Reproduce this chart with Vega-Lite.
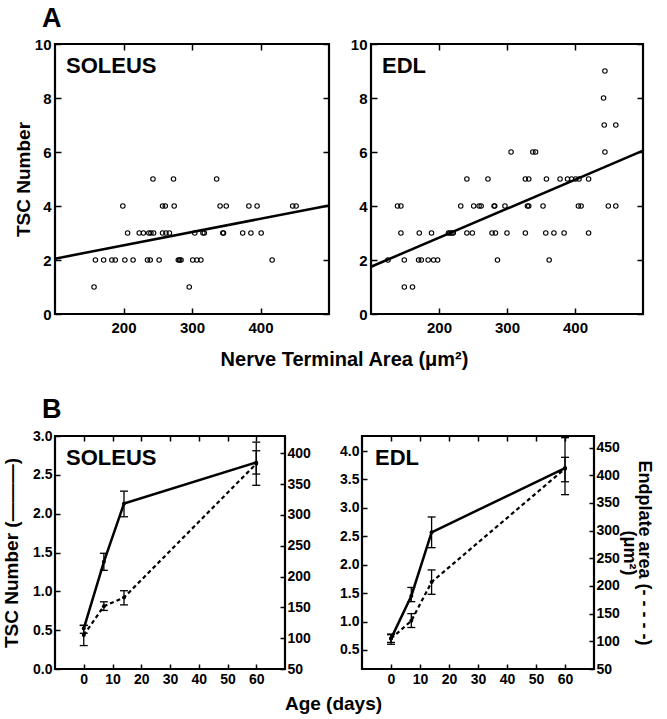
{
  "$schema": "https://vega.github.io/schema/vega-lite/v6.json",
  "background": "white",
  "padding": {"left": 0, "top": 5, "right": 0, "bottom": 0},
  "datasets": {
    "scatter": [
      {"muscle": "SOLEUS", "area": 243, "tsc": 5}, {"muscle": "SOLEUS", "area": 273, "tsc": 5}, {"muscle": "SOLEUS", "area": 336, "tsc": 5},
      {"muscle": "SOLEUS", "area": 199, "tsc": 4}, {"muscle": "SOLEUS", "area": 257, "tsc": 4}, {"muscle": "SOLEUS", "area": 261, "tsc": 4}, {"muscle": "SOLEUS", "area": 274, "tsc": 4}, {"muscle": "SOLEUS", "area": 341, "tsc": 4}, {"muscle": "SOLEUS", "area": 350, "tsc": 4}, {"muscle": "SOLEUS", "area": 383, "tsc": 4}, {"muscle": "SOLEUS", "area": 395, "tsc": 4}, {"muscle": "SOLEUS", "area": 447, "tsc": 4}, {"muscle": "SOLEUS", "area": 452, "tsc": 4},
      {"muscle": "SOLEUS", "area": 206, "tsc": 3}, {"muscle": "SOLEUS", "area": 223, "tsc": 3}, {"muscle": "SOLEUS", "area": 229, "tsc": 3}, {"muscle": "SOLEUS", "area": 237, "tsc": 3}, {"muscle": "SOLEUS", "area": 240, "tsc": 3}, {"muscle": "SOLEUS", "area": 244, "tsc": 3}, {"muscle": "SOLEUS", "area": 257, "tsc": 3}, {"muscle": "SOLEUS", "area": 262, "tsc": 3}, {"muscle": "SOLEUS", "area": 267, "tsc": 3}, {"muscle": "SOLEUS", "area": 304, "tsc": 3}, {"muscle": "SOLEUS", "area": 316, "tsc": 3}, {"muscle": "SOLEUS", "area": 318, "tsc": 3}, {"muscle": "SOLEUS", "area": 345, "tsc": 3}, {"muscle": "SOLEUS", "area": 346, "tsc": 3}, {"muscle": "SOLEUS", "area": 374, "tsc": 3}, {"muscle": "SOLEUS", "area": 386, "tsc": 3}, {"muscle": "SOLEUS", "area": 401, "tsc": 3},
      {"muscle": "SOLEUS", "area": 159, "tsc": 2}, {"muscle": "SOLEUS", "area": 171, "tsc": 2}, {"muscle": "SOLEUS", "area": 183, "tsc": 2}, {"muscle": "SOLEUS", "area": 188, "tsc": 2}, {"muscle": "SOLEUS", "area": 202, "tsc": 2}, {"muscle": "SOLEUS", "area": 214, "tsc": 2}, {"muscle": "SOLEUS", "area": 235, "tsc": 2}, {"muscle": "SOLEUS", "area": 239, "tsc": 2}, {"muscle": "SOLEUS", "area": 252, "tsc": 2}, {"muscle": "SOLEUS", "area": 280, "tsc": 2}, {"muscle": "SOLEUS", "area": 282, "tsc": 2}, {"muscle": "SOLEUS", "area": 284, "tsc": 2}, {"muscle": "SOLEUS", "area": 301, "tsc": 2}, {"muscle": "SOLEUS", "area": 307, "tsc": 2}, {"muscle": "SOLEUS", "area": 313, "tsc": 2}, {"muscle": "SOLEUS", "area": 417, "tsc": 2},
      {"muscle": "SOLEUS", "area": 157, "tsc": 1}, {"muscle": "SOLEUS", "area": 296, "tsc": 1},
      {"muscle": "EDL", "area": 149, "tsc": 1}, {"muscle": "EDL", "area": 161, "tsc": 1},
      {"muscle": "EDL", "area": 125, "tsc": 2}, {"muscle": "EDL", "area": 149, "tsc": 2}, {"muscle": "EDL", "area": 170, "tsc": 2}, {"muscle": "EDL", "area": 174, "tsc": 2}, {"muscle": "EDL", "area": 184, "tsc": 2}, {"muscle": "EDL", "area": 192, "tsc": 2}, {"muscle": "EDL", "area": 198, "tsc": 2}, {"muscle": "EDL", "area": 286, "tsc": 2}, {"muscle": "EDL", "area": 362, "tsc": 2},
      {"muscle": "EDL", "area": 144, "tsc": 3}, {"muscle": "EDL", "area": 171, "tsc": 3}, {"muscle": "EDL", "area": 189, "tsc": 3}, {"muscle": "EDL", "area": 214, "tsc": 3}, {"muscle": "EDL", "area": 216, "tsc": 3}, {"muscle": "EDL", "area": 219, "tsc": 3}, {"muscle": "EDL", "area": 221, "tsc": 3}, {"muscle": "EDL", "area": 241, "tsc": 3}, {"muscle": "EDL", "area": 249, "tsc": 3}, {"muscle": "EDL", "area": 278, "tsc": 3}, {"muscle": "EDL", "area": 283, "tsc": 3}, {"muscle": "EDL", "area": 300, "tsc": 3}, {"muscle": "EDL", "area": 327, "tsc": 3}, {"muscle": "EDL", "area": 357, "tsc": 3}, {"muscle": "EDL", "area": 369, "tsc": 3}, {"muscle": "EDL", "area": 384, "tsc": 3}, {"muscle": "EDL", "area": 420, "tsc": 3},
      {"muscle": "EDL", "area": 139, "tsc": 4}, {"muscle": "EDL", "area": 144, "tsc": 4}, {"muscle": "EDL", "area": 232, "tsc": 4}, {"muscle": "EDL", "area": 251, "tsc": 4}, {"muscle": "EDL", "area": 259, "tsc": 4}, {"muscle": "EDL", "area": 262, "tsc": 4}, {"muscle": "EDL", "area": 281, "tsc": 4}, {"muscle": "EDL", "area": 282, "tsc": 4}, {"muscle": "EDL", "area": 297, "tsc": 4}, {"muscle": "EDL", "area": 330, "tsc": 4}, {"muscle": "EDL", "area": 332, "tsc": 4}, {"muscle": "EDL", "area": 353, "tsc": 4}, {"muscle": "EDL", "area": 405, "tsc": 4}, {"muscle": "EDL", "area": 409, "tsc": 4}, {"muscle": "EDL", "area": 449, "tsc": 4}, {"muscle": "EDL", "area": 460, "tsc": 4},
      {"muscle": "EDL", "area": 241, "tsc": 5}, {"muscle": "EDL", "area": 272, "tsc": 5}, {"muscle": "EDL", "area": 327, "tsc": 5}, {"muscle": "EDL", "area": 332, "tsc": 5}, {"muscle": "EDL", "area": 358, "tsc": 5}, {"muscle": "EDL", "area": 378, "tsc": 5}, {"muscle": "EDL", "area": 389, "tsc": 5}, {"muscle": "EDL", "area": 395, "tsc": 5}, {"muscle": "EDL", "area": 401, "tsc": 5}, {"muscle": "EDL", "area": 406, "tsc": 5}, {"muscle": "EDL", "area": 420, "tsc": 5},
      {"muscle": "EDL", "area": 306, "tsc": 6}, {"muscle": "EDL", "area": 338, "tsc": 6}, {"muscle": "EDL", "area": 342, "tsc": 6}, {"muscle": "EDL", "area": 444, "tsc": 6},
      {"muscle": "EDL", "area": 443, "tsc": 7}, {"muscle": "EDL", "area": 460, "tsc": 7},
      {"muscle": "EDL", "area": 442, "tsc": 8},
      {"muscle": "EDL", "area": 444, "tsc": 9}
    ],
    "fit": [
      {"muscle": "SOLEUS", "area": 100, "tsc": 2.05}, {"muscle": "SOLEUS", "area": 500, "tsc": 4.02},
      {"muscle": "EDL", "area": 100, "tsc": 1.75}, {"muscle": "EDL", "area": 500, "tsc": 6.05}
    ],
    "age": [
      {"muscle": "SOLEUS", "day": 0, "tsc": 0.52, "tsc_lo": 0.46, "tsc_hi": 0.56, "ep": 105, "ep_lo": 88, "ep_hi": 121},
      {"muscle": "SOLEUS", "day": 7, "tsc": 1.38, "tsc_lo": 1.27, "tsc_hi": 1.49, "ep": 152, "ep_lo": 145, "ep_hi": 159},
      {"muscle": "SOLEUS", "day": 14, "tsc": 2.13, "tsc_lo": 1.96, "tsc_hi": 2.29, "ep": 166, "ep_lo": 154, "ep_hi": 177},
      {"muscle": "SOLEUS", "day": 60, "tsc": 2.66, "tsc_lo": 2.51, "tsc_hi": 2.81, "ep": 383, "ep_lo": 348, "ep_hi": 418},
      {"muscle": "EDL", "day": 0, "tsc": 0.70, "tsc_lo": 0.60, "tsc_hi": 0.78, "ep": 105, "ep_lo": 98, "ep_hi": 112},
      {"muscle": "EDL", "day": 7, "tsc": 1.45, "tsc_lo": 1.35, "tsc_hi": 1.60, "ep": 137, "ep_lo": 125, "ep_hi": 150},
      {"muscle": "EDL", "day": 14, "tsc": 2.57, "tsc_lo": 2.30, "tsc_hi": 2.84, "ep": 207, "ep_lo": 185, "ep_hi": 229},
      {"muscle": "EDL", "day": 60, "tsc": 3.70, "tsc_lo": 3.46, "tsc_hi": 3.89, "ep": 412, "ep_lo": 365, "ep_hi": 468}
    ]
  },
  "spacing": 25,
  "bounds": "full",
  "vconcat": [
    {
      "title": {"text": "A", "orient": "none", "anchor": "start", "frame": "group", "fontSize": 27, "dx": -13, "dy": -17, "baseline": "alphabetic"},
      "spacing": 42,
      "bounds": "flush",
      "hconcat": [
        {
          "width": 274, "height": 270,
          "title": {"text": "SOLEUS", "orient": "none", "anchor": "start", "frame": "group", "fontSize": 22, "dx": 11, "dy": 29, "baseline": "alphabetic"},
          "layer": [
            {
              "data": {"name": "scatter"},
              "transform": [{"filter": "datum.muscle === 'SOLEUS'"}],
              "mark": {"type": "point", "shape": "circle", "filled": false, "size": 20, "stroke": "black", "strokeWidth": 1.1, "opacity": 1},
              "encoding": {
                "x": {"field": "area", "type": "quantitative", "scale": {"domain": [100, 500], "nice": false, "zero": false},
                  "axis": {"orient": "bottom", "values": [200, 300, 400], "format": "d", "tickCount": 20, "labelOverlap": false, "tickSize": -6, "labelPadding": 12, "labelFontSize": 15, "title": "Nerve Terminal Area (μm²)", "titleFontSize": 20, "titleX": 289, "titleY": 51, "titleBaseline": "alphabetic", "titleAlign": "center"}},
                "y": {"field": "tsc", "type": "quantitative", "scale": {"domain": [0, 10], "nice": false},
                  "axis": {"orient": "left", "values": [0, 2, 4, 6, 8, 10], "format": "d", "tickCount": 20, "labelOverlap": false, "tickSize": -6, "labelPadding": 10, "labelFontSize": 15, "title": "TSC Number", "titleFontSize": 19, "titleX": -32, "titleBaseline": "middle"}}
              }
            },
            {
              "data": {"name": "fit"},
              "transform": [{"filter": "datum.muscle === 'SOLEUS'"}],
              "mark": {"type": "line", "color": "black", "strokeWidth": 2.5},
              "encoding": {
                "x": {"field": "area", "type": "quantitative", "scale": {"domain": [100, 500], "nice": false, "zero": false},
                  "axis": {"orient": "top", "values": [200, 300, 400], "tickCount": 20, "tickSize": -6, "labels": false, "title": null}},
                "y": {"field": "tsc", "type": "quantitative", "scale": {"domain": [0, 10], "nice": false},
                  "axis": {"orient": "right", "values": [0, 2, 4, 6, 8, 10], "tickCount": 20, "tickSize": -6, "labels": false, "title": null}}
              }
            }
          ],
          "resolve": {"scale": {"x": "independent", "y": "independent"}, "axis": {"x": "independent", "y": "independent"}}
        },
        {
          "width": 272, "height": 270,
          "title": {"text": "EDL", "orient": "none", "anchor": "start", "frame": "group", "fontSize": 22, "dx": 11, "dy": 29, "baseline": "alphabetic"},
          "layer": [
            {
              "data": {"name": "scatter"},
              "transform": [{"filter": "datum.muscle === 'EDL'"}],
              "mark": {"type": "point", "shape": "circle", "filled": false, "size": 20, "stroke": "black", "strokeWidth": 1.1, "opacity": 1},
              "encoding": {
                "x": {"field": "area", "type": "quantitative", "scale": {"domain": [100, 500], "nice": false, "zero": false},
                  "axis": {"orient": "bottom", "values": [200, 300, 400], "format": "d", "tickCount": 20, "labelOverlap": false, "tickSize": -6, "labelPadding": 12, "labelFontSize": 15, "title": null}},
                "y": {"field": "tsc", "type": "quantitative", "scale": {"domain": [0, 10], "nice": false},
                  "axis": {"orient": "left", "values": [0, 2, 4, 6, 8, 10], "format": "d", "tickCount": 20, "labelOverlap": false, "tickSize": -6, "labelPadding": 10, "labelFontSize": 15, "title": null}}
              }
            },
            {
              "data": {"name": "fit"},
              "transform": [{"filter": "datum.muscle === 'EDL'"}],
              "mark": {"type": "line", "color": "black", "strokeWidth": 2.5},
              "encoding": {
                "x": {"field": "area", "type": "quantitative", "scale": {"domain": [100, 500], "nice": false, "zero": false},
                  "axis": {"orient": "top", "values": [200, 300, 400], "tickCount": 20, "tickSize": -6, "labels": false, "title": null}},
                "y": {"field": "tsc", "type": "quantitative", "scale": {"domain": [0, 10], "nice": false},
                  "axis": {"orient": "right", "values": [0, 2, 4, 6, 8, 10], "tickCount": 20, "tickSize": -6, "labels": false, "title": null}}
              }
            }
          ],
          "resolve": {"scale": {"x": "independent", "y": "independent"}, "axis": {"x": "independent", "y": "independent"}}
        }
      ]
    },
    {
      "title": {"text": "B", "orient": "none", "anchor": "start", "frame": "group", "fontSize": 27, "dx": -13, "dy": -18, "baseline": "alphabetic"},
      "spacing": 77,
      "bounds": "flush",
      "hconcat": [
        {
          "width": 230, "height": 233,
          "title": {"text": "SOLEUS", "orient": "none", "anchor": "start", "frame": "group", "fontSize": 22, "dx": 11, "dy": 29, "baseline": "alphabetic"},
          "data": {"name": "age"},
          "transform": [{"filter": "datum.muscle === 'SOLEUS'"}],
          "layer": [
            {
              "layer": [
                {"mark": {"type": "line", "color": "black", "strokeWidth": 2.5},
                 "encoding": {
                   "x": {"field": "day", "type": "quantitative", "scale": {"domain": [-10, 70], "nice": false, "zero": false}, "axis": {"orient": "bottom", "values": [0, 10, 20, 30, 40, 50, 60], "format": "d", "tickCount": 20, "labelOverlap": false, "tickSize": -5, "labelPadding": 8, "labelFontSize": 14, "title": "Age (days)", "titleFontSize": 19, "titleX": 278, "titleY": 40, "titleBaseline": "alphabetic", "titleAlign": "center"}},
                   "y": {"field": "tsc", "type": "quantitative", "scale": {"domain": [0, 3], "nice": false, "zero": false}, "axis": {"orient": "left", "values": [0, 0.5, 1, 1.5, 2, 2.5, 3], "tickCount": 20, "labelOverlap": false, "format": ".1f", "tickSize": -5, "labelPadding": 8, "labelFontSize": 14, "title": "TSC Number (———)", "titleFontSize": 19, "titleX": -44, "titleBaseline": "middle"}}
                 }},
                {"mark": {"type": "rule", "color": "black", "strokeWidth": 1.3},
                 "encoding": {
                   "x": {"field": "day", "type": "quantitative"},
                   "y": {"field": "tsc_lo", "type": "quantitative"},
                   "y2": {"field": "tsc_hi"}
                 }},
                {"mark": {"type": "tick", "orient": "horizontal", "size": 8, "thickness": 1.3, "color": "black", "opacity": 1},
                 "encoding": {
                   "x": {"field": "day", "type": "quantitative"},
                   "y": {"field": "tsc_lo", "type": "quantitative"}
                 }},
                {"mark": {"type": "tick", "orient": "horizontal", "size": 8, "thickness": 1.3, "color": "black", "opacity": 1},
                 "encoding": {
                   "x": {"field": "day", "type": "quantitative"},
                   "y": {"field": "tsc_hi", "type": "quantitative"}
                 }},
                {"mark": {"type": "circle", "size": 16, "color": "black", "opacity": 1},
                 "encoding": {
                   "x": {"field": "day", "type": "quantitative"},
                   "y": {"field": "tsc", "type": "quantitative"}
                 }}
              ]
            },
            {
              "layer": [
                {"mark": {"type": "line", "color": "black", "strokeWidth": 2.2, "strokeDash": [4, 3]},
                 "encoding": {
                   "x": {"field": "day", "type": "quantitative", "scale": {"domain": [-10, 70], "nice": false, "zero": false}, "axis": {"orient": "top", "values": [0, 10, 20, 30, 40, 50, 60], "tickCount": 20, "tickSize": -5, "labels": false, "title": null}},
                   "y": {"field": "ep", "type": "quantitative", "scale": {"domain": [50, 428], "nice": false, "zero": false}, "axis": {"orient": "right", "values": [50, 100, 150, 200, 250, 300, 350, 400], "format": "d", "tickCount": 20, "labelOverlap": false, "tickSize": -5, "labelPadding": 7, "labelFontSize": 14, "title": null}}
                 }},
                {"mark": {"type": "rule", "color": "black", "strokeWidth": 1.3},
                 "encoding": {
                   "x": {"field": "day", "type": "quantitative"},
                   "y": {"field": "ep_lo", "type": "quantitative"},
                   "y2": {"field": "ep_hi"}
                 }},
                {"mark": {"type": "tick", "orient": "horizontal", "size": 8, "thickness": 1.3, "color": "black", "opacity": 1},
                 "encoding": {
                   "x": {"field": "day", "type": "quantitative"},
                   "y": {"field": "ep_lo", "type": "quantitative"}
                 }},
                {"mark": {"type": "tick", "orient": "horizontal", "size": 8, "thickness": 1.3, "color": "black", "opacity": 1},
                 "encoding": {
                   "x": {"field": "day", "type": "quantitative"},
                   "y": {"field": "ep_hi", "type": "quantitative"}
                 }},
                {"mark": {"type": "circle", "size": 16, "color": "black", "opacity": 1},
                 "encoding": {
                   "x": {"field": "day", "type": "quantitative"},
                   "y": {"field": "ep", "type": "quantitative"}
                 }}
              ]
            }
          ],
          "resolve": {"scale": {"x": "independent", "y": "independent"}, "axis": {"x": "independent", "y": "independent"}}
        },
        {
          "width": 232, "height": 233,
          "title": {"text": "EDL", "orient": "none", "anchor": "start", "frame": "group", "fontSize": 22, "dx": 13, "dy": 29, "baseline": "alphabetic"},
          "data": {"name": "age"},
          "transform": [{"filter": "datum.muscle === 'EDL'"}],
          "layer": [
            {
              "layer": [
                {"mark": {"type": "line", "color": "black", "strokeWidth": 2.5},
                 "encoding": {
                   "x": {"field": "day", "type": "quantitative", "scale": {"domain": [-10, 70], "nice": false, "zero": false}, "axis": {"orient": "bottom", "values": [0, 10, 20, 30, 40, 50, 60], "format": "d", "tickCount": 20, "labelOverlap": false, "tickSize": -5, "labelPadding": 8, "labelFontSize": 14, "title": null}},
                   "y": {"field": "tsc", "type": "quantitative", "scale": {"domain": [0.165, 4.265], "nice": false, "zero": false}, "axis": {"orient": "left", "values": [0.5, 1, 1.5, 2, 2.5, 3, 3.5, 4], "tickCount": 20, "labelOverlap": false, "format": ".1f", "tickSize": -5, "labelPadding": 8, "labelFontSize": 14, "title": null}}
                 }},
                {"mark": {"type": "rule", "color": "black", "strokeWidth": 1.3},
                 "encoding": {
                   "x": {"field": "day", "type": "quantitative"},
                   "y": {"field": "tsc_lo", "type": "quantitative"},
                   "y2": {"field": "tsc_hi"}
                 }},
                {"mark": {"type": "tick", "orient": "horizontal", "size": 8, "thickness": 1.3, "color": "black", "opacity": 1},
                 "encoding": {
                   "x": {"field": "day", "type": "quantitative"},
                   "y": {"field": "tsc_lo", "type": "quantitative"}
                 }},
                {"mark": {"type": "tick", "orient": "horizontal", "size": 8, "thickness": 1.3, "color": "black", "opacity": 1},
                 "encoding": {
                   "x": {"field": "day", "type": "quantitative"},
                   "y": {"field": "tsc_hi", "type": "quantitative"}
                 }},
                {"mark": {"type": "circle", "size": 16, "color": "black", "opacity": 1},
                 "encoding": {
                   "x": {"field": "day", "type": "quantitative"},
                   "y": {"field": "tsc", "type": "quantitative"}
                 }}
              ]
            },
            {
              "layer": [
                {"mark": {"type": "line", "color": "black", "strokeWidth": 2.2, "strokeDash": [4, 3]},
                 "encoding": {
                   "x": {"field": "day", "type": "quantitative", "scale": {"domain": [-10, 70], "nice": false, "zero": false}, "axis": {"orient": "top", "values": [0, 10, 20, 30, 40, 50, 60], "tickCount": 20, "tickSize": -5, "labels": false, "title": null}},
                   "y": {"field": "ep", "type": "quantitative", "scale": {"domain": [50, 471], "nice": false, "zero": false}, "axis": {"orient": "right", "values": [50, 100, 150, 200, 250, 300, 350, 400, 450], "format": "d", "tickCount": 20, "labelOverlap": false, "tickSize": -5, "labelPadding": 7, "labelFontSize": 14, "title": ["Endplate area (- - - - -)", "(μm²)"], "titleFontSize": 18, "titleAngle": 90, "titleX": 49, "titleBaseline": "middle", "titleLineHeight": 15}}
                 }},
                {"mark": {"type": "rule", "color": "black", "strokeWidth": 1.3},
                 "encoding": {
                   "x": {"field": "day", "type": "quantitative"},
                   "y": {"field": "ep_lo", "type": "quantitative"},
                   "y2": {"field": "ep_hi"}
                 }},
                {"mark": {"type": "tick", "orient": "horizontal", "size": 8, "thickness": 1.3, "color": "black", "opacity": 1},
                 "encoding": {
                   "x": {"field": "day", "type": "quantitative"},
                   "y": {"field": "ep_lo", "type": "quantitative"}
                 }},
                {"mark": {"type": "tick", "orient": "horizontal", "size": 8, "thickness": 1.3, "color": "black", "opacity": 1},
                 "encoding": {
                   "x": {"field": "day", "type": "quantitative"},
                   "y": {"field": "ep_hi", "type": "quantitative"}
                 }},
                {"mark": {"type": "circle", "size": 16, "color": "black", "opacity": 1},
                 "encoding": {
                   "x": {"field": "day", "type": "quantitative"},
                   "y": {"field": "ep", "type": "quantitative"}
                 }}
              ]
            }
          ],
          "resolve": {"scale": {"x": "independent", "y": "independent"}, "axis": {"x": "independent", "y": "independent"}}
        }
      ]
    }
  ],
  "config": {
    "view": {"stroke": "black", "strokeWidth": 2.2},
    "axis": {"grid": false, "domain": false, "labelOverlap": false, "tickCount": 20, "tickColor": "black", "tickWidth": 1.5, "labelFont": "Liberation Sans", "labelFontWeight": "bold", "labelColor": "black", "titleFont": "Liberation Sans", "titleFontWeight": "bold", "titleColor": "black"},
    "title": {"font": "Liberation Sans", "fontWeight": "bold", "color": "black"}
  }
}
